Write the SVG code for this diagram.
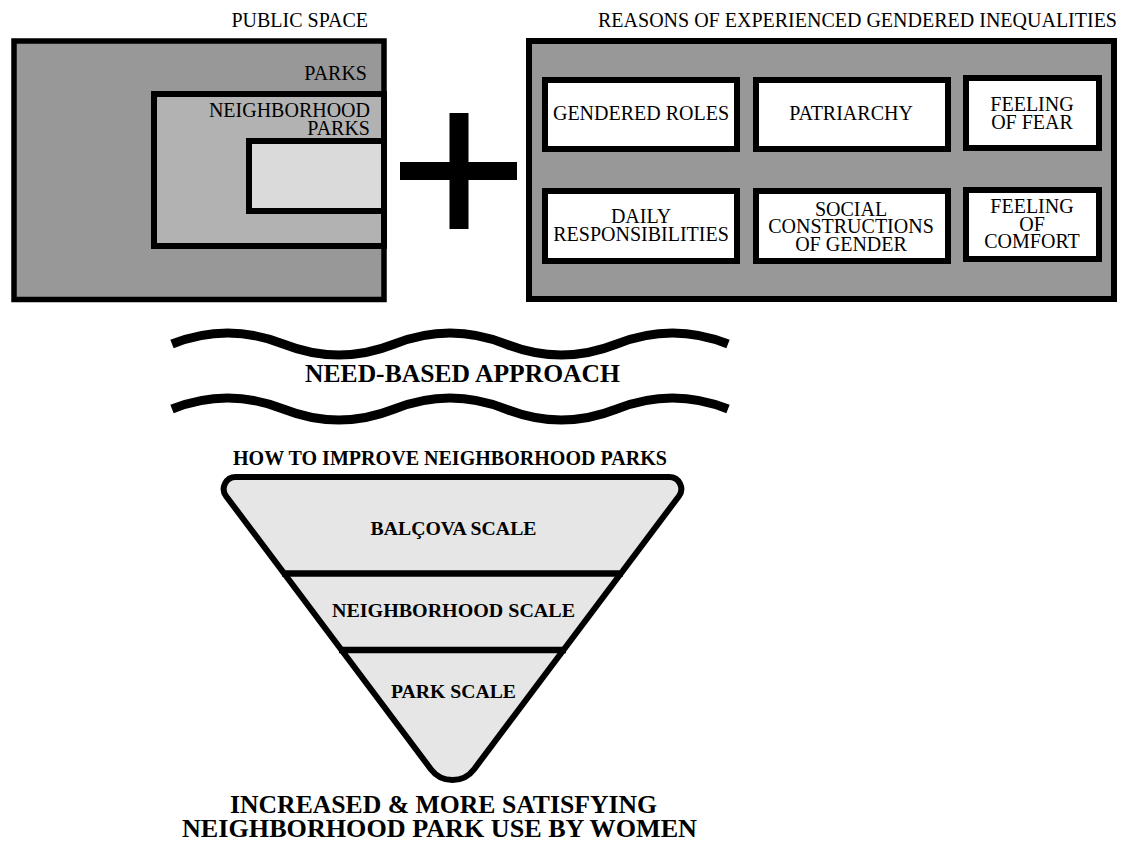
<svg xmlns="http://www.w3.org/2000/svg" width="1124" height="843" viewBox="0 0 1124 843">
  <style>
    .lbl { font-family: "Liberation Serif", "Times New Roman", serif; font-size: 20px; fill: #000; }
    .bold { font-family: "Liberation Serif", "Times New Roman", serif; font-weight: bold; fill: #000; }
    .frame { stroke: #000; stroke-width: 6; }
    .card { fill: #fff; stroke: #000; stroke-width: 6; }
    .wave { fill: none; stroke: #000; stroke-width: 9; stroke-linecap: butt; }
    .divider { stroke: #000; stroke-width: 6.5; }
  </style>

  <rect x="0" y="0" width="1124" height="843" fill="#fff"/>

  <!-- Nested public space diagram -->
  <g id="public-space">
    <text class="lbl" x="368" y="27" text-anchor="end">PUBLIC SPACE</text>
    <rect x="14" y="41" width="370" height="258.5" fill="#989898" stroke="#000" stroke-width="5.5"/>
    <text class="lbl" x="367" y="80" text-anchor="end">PARKS</text>
  </g>
  <g id="parks">
    <rect x="154" y="94" width="230" height="152" fill="#b2b2b2" class="frame"/>
    <text class="lbl" x="370" y="117" text-anchor="end">NEIGHBORHOOD</text>
    <text class="lbl" x="370" y="135" text-anchor="end">PARKS</text>
  </g>
  <g id="neighborhood-parks">
    <rect x="249" y="141" width="135" height="70" fill="#dadada" class="frame"/>
  </g>

  <!-- Plus sign -->
  <g id="plus">
    <rect x="400" y="162" width="117" height="18" fill="#000"/>
    <rect x="449.5" y="113" width="19" height="116" fill="#000"/>
  </g>

  <!-- Reasons panel -->
  <g id="reasons">
    <text class="lbl" x="598" y="27" textLength="519" lengthAdjust="spacingAndGlyphs">REASONS OF EXPERIENCED GENDERED INEQUALITIES</text>
    <rect x="529" y="41" width="585" height="258" fill="#989898" class="frame"/>
  </g>
  <g id="gendered-roles">
    <rect class="card" x="545" y="80" width="192" height="69"/>
    <text class="lbl" x="641" y="120" text-anchor="middle">GENDERED ROLES</text>
  </g>
  <g id="patriarchy">
    <rect class="card" x="756" y="80" width="192" height="69"/>
    <text class="lbl" x="851" y="120" text-anchor="middle">PATRIARCHY</text>
  </g>
  <g id="feeling-of-fear">
    <rect class="card" x="966" y="78" width="133" height="70"/>
    <text class="lbl" x="1032" y="111" text-anchor="middle">FEELING</text>
    <text class="lbl" x="1032" y="129" text-anchor="middle">OF FEAR</text>
  </g>
  <g id="daily-responsibilities">
    <rect class="card" x="545" y="191" width="192" height="70"/>
    <text class="lbl" x="641" y="223" text-anchor="middle">DAILY</text>
    <text class="lbl" x="641" y="241" text-anchor="middle">RESPONSIBILITIES</text>
  </g>
  <g id="social-constructions">
    <rect class="card" x="756" y="191" width="192" height="70"/>
    <text class="lbl" x="851" y="216" text-anchor="middle">SOCIAL</text>
    <text class="lbl" x="851" y="233" text-anchor="middle">CONSTRUCTIONS</text>
    <text class="lbl" x="851" y="251" text-anchor="middle">OF GENDER</text>
  </g>
  <g id="feeling-of-comfort">
    <rect class="card" x="966" y="190" width="133" height="69"/>
    <text class="lbl" x="1032" y="213" text-anchor="middle">FEELING</text>
    <text class="lbl" x="1032" y="231" text-anchor="middle">OF</text>
    <text class="lbl" x="1032" y="248" text-anchor="middle">COMFORT</text>
  </g>

  <!-- Need-based approach band -->
  <g id="need-based-approach">
    <path class="wave" d="M172,344 Q227.6,322 283.2,344 T394.4,344 T505.6,344 T616.8,344 T728,344"/>
    <text class="bold" x="305" y="382" font-size="25" textLength="315" lengthAdjust="spacingAndGlyphs">NEED-BASED APPROACH</text>
    <path class="wave" d="M172,409 Q227.6,387 283.2,409 T394.4,409 T505.6,409 T616.8,409 T728,409"/>
  </g>

  <!-- Scale funnel -->
  <g id="improvement-funnel">
    <text class="bold" x="233" y="465" font-size="20" textLength="434" lengthAdjust="spacingAndGlyphs">HOW TO IMPROVE NEIGHBORHOOD PARKS</text>
    <path d="M235.75,477 H669.25 A12,12 0 0 1 678.85,496.2 L474.1,769.2 A27,27 0 0 1 430.9,769.2 L226.15,496.2 A12,12 0 0 1 235.75,477 Z" fill="#e6e6e6"/>
    <line class="divider" x1="282" y1="573.5" x2="623" y2="573.5"/>
    <line class="divider" x1="339" y1="650" x2="566" y2="650"/>
    <path d="M235.75,477 H669.25 A12,12 0 0 1 678.85,496.2 L474.1,769.2 A27,27 0 0 1 430.9,769.2 L226.15,496.2 A12,12 0 0 1 235.75,477 Z" fill="none" stroke="#000" stroke-width="6"/>
  </g>
  <g id="balcova-scale">
    <text class="bold" x="370.5" y="535" font-size="19" textLength="166" lengthAdjust="spacingAndGlyphs">BALÇOVA SCALE</text>
  </g>
  <g id="neighborhood-scale">
    <text class="bold" x="332" y="617" font-size="19" textLength="243" lengthAdjust="spacingAndGlyphs">NEIGHBORHOOD SCALE</text>
  </g>
  <g id="park-scale">
    <text class="bold" x="391" y="698" font-size="19" textLength="125" lengthAdjust="spacingAndGlyphs">PARK SCALE</text>
  </g>

  <!-- Outcome -->
  <g id="outcome">
    <text class="bold" x="230" y="813" font-size="26" textLength="427" lengthAdjust="spacingAndGlyphs">INCREASED &amp; MORE SATISFYING</text>
    <text class="bold" x="182" y="837" font-size="26" textLength="515" lengthAdjust="spacingAndGlyphs">NEIGHBORHOOD PARK USE BY WOMEN</text>
  </g>
</svg>
